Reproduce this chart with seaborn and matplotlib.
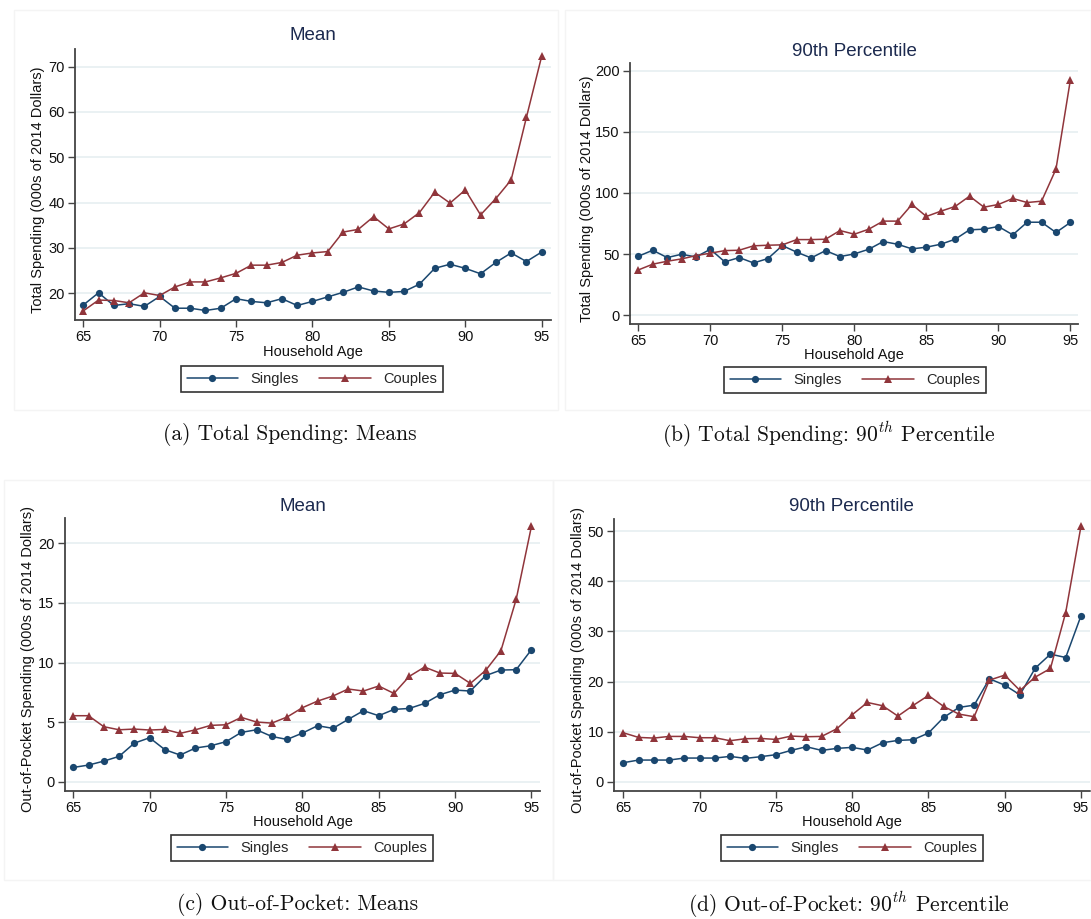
import numpy as np
import pandas as pd
import seaborn as sns
import matplotlib.pyplot as plt
from matplotlib.lines import Line2D
from matplotlib.patches import Rectangle

# -------------------------------
# Data
# -------------------------------
ages = list(range(65, 96))

total_mean_singles = [17.4, 20.1, 17.3, 17.7, 17.1, 19.3, 16.7, 16.7, 16.2, 16.7,
                      18.8, 18.2, 17.9, 18.8, 17.3, 18.2, 19.2, 20.2, 21.4, 20.5,
                      20.2, 20.4, 22.0, 25.5, 26.4, 25.5, 24.3, 26.8, 28.9, 27.0, 29.1]
total_mean_couples = [16.1, 18.5, 18.4, 17.9, 20.1, 19.5, 21.4, 22.5, 22.5, 23.4,
                      24.4, 26.2, 26.2, 26.8, 28.4, 28.9, 29.2, 33.5, 34.1, 36.9,
                      34.2, 35.3, 37.8, 42.3, 39.9, 42.8, 37.3, 40.9, 45.0, 58.8, 72.3]

total_p90_singles = [48.3, 53.2, 47.2, 49.9, 47.7, 54.0, 43.7, 47.2, 42.8, 46.4,
                     57.0, 51.6, 46.9, 52.9, 48.0, 50.2, 54.0, 60.3, 58.1, 54.3,
                     55.7, 58.1, 62.2, 69.9, 70.4, 72.6, 65.8, 76.1, 76.1, 67.7, 75.9]
total_p90_couples = [37.1, 41.8, 44.2, 46.1, 48.8, 50.8, 52.9, 53.2, 56.8, 57.3,
                     57.6, 61.9, 61.9, 62.2, 69.3, 66.3, 70.4, 77.0, 77.0, 90.6,
                     80.8, 85.1, 89.0, 97.4, 88.4, 90.6, 95.5, 92.2, 93.3, 119.5, 192.4]

oop_mean_singles = [1.20, 1.40, 1.73, 2.13, 3.24, 3.69, 2.69, 2.24, 2.83, 3.02,
                    3.36, 4.14, 4.36, 3.80, 3.55, 4.08, 4.70, 4.48, 5.23, 5.96,
                    5.54, 6.07, 6.15, 6.57, 7.30, 7.69, 7.61, 8.90, 9.37, 9.40, 11.08]
oop_mean_couples = [5.54, 5.54, 4.62, 4.36, 4.42, 4.34, 4.39, 4.06, 4.36, 4.73,
                    4.78, 5.40, 5.01, 4.92, 5.43, 6.21, 6.77, 7.19, 7.78, 7.61,
                    8.03, 7.41, 8.84, 9.62, 9.12, 9.09, 8.25, 9.34, 10.99, 15.30, 21.43]

oop_p90_singles = [3.79, 4.32, 4.32, 4.32, 4.72, 4.72, 4.72, 5.05, 4.65, 4.99,
                   5.39, 6.25, 6.98, 6.25, 6.65, 6.85, 6.32, 7.78, 8.24, 8.38,
                   9.71, 12.83, 14.83, 15.29, 20.55, 19.28, 17.35, 22.67, 25.47, 24.80, 33.11]
oop_p90_couples = [9.77, 8.84, 8.71, 9.04, 9.04, 8.78, 8.78, 8.18, 8.58, 8.64,
                   8.44, 9.11, 8.98, 9.04, 10.57, 13.36, 15.82, 15.16, 13.10, 15.23,
                   17.22, 15.03, 13.50, 12.97, 20.28, 21.28, 18.22, 20.88, 22.61, 33.78, 51.00]

xticks = [65, 70, 75, 80, 85, 90, 95]
groups = ['Singles', 'Couples']

# -------------------------------
# Styling
# -------------------------------
sns.set_theme(style="white")
plt.rcParams['font.family'] = ['Liberation Sans', 'DejaVu Sans']
plt.rcParams['mathtext.fontset'] = 'cm'

BLUE = '#1a476f'
RED = '#90353b'
palette = {'Singles': BLUE, 'Couples': RED}
markers = {'Singles': 'o', 'Couples': '^'}
msizes = {'Singles': 5.2, 'Couples': 5.8}
TITLE_C = '#1c2a4f'
AXIS_C = '#444444'
LW = 1.1

W, H = 1091, 919
fig = plt.figure(figsize=(W / 100, H / 100), dpi=100)


def fx(x):
    return x / W


def fy(y):
    return 1 - y / H


# faint Stata graph-region borders
for (x0, y0, x1, y1) in [(14, 10, 558, 410), (565, 10, 1091, 410),
                         (4, 480, 553, 880), (553, 480, 1091, 880)]:
    fig.patches.append(Rectangle((fx(x0), fy(y1)), (x1 - x0) / W, (y1 - y0) / H,
                                 transform=fig.transFigure, fill=False,
                                 edgecolor='#f4f4f4', lw=1))

panels = [
    dict(s=total_mean_singles, c=total_mean_couples, box=(75, 49, 551, 320),
         xlim=(64.46, 95.61), ylim=(14.1, 73.9), yticks=[20, 30, 40, 50, 60, 70],
         title='Mean', title_y=36, ylabel='Total Spending (000s of 2014 Dollars)',
         ylab_x=38, xlab_y=352, leg=(312, 379),
         caption='(a) Total Spending: Means', cap=(290, 435)),
    dict(s=total_p90_singles, c=total_p90_couples, box=(630, 62.7, 1078, 324),
         xlim=(64.42, 95.53), ylim=(-7.1, 206.5), yticks=[0, 50, 100, 150, 200],
         title='90th Percentile', title_y=51, ylabel='Total Spending (000s of 2014 Dollars)',
         ylab_x=587, xlab_y=355, leg=(855, 380),
         caption=r'(b) Total Spending: $90^{th}$ Percentile', cap=(829, 435)),
    dict(s=oop_mean_singles, c=oop_mean_couples, box=(65, 518.3, 540, 790.7),
         xlim=(64.46, 95.56), ylim=(-0.75, 22.1), yticks=[0, 5, 10, 15, 20],
         title='Mean', title_y=506, ylabel='Out-of-Pocket Spending (000s of 2014 Dollars)',
         ylab_x=28, xlab_y=822, leg=(302, 848),
         caption='(c) Out-of-Pocket: Means', cap=(298, 905)),
    dict(s=oop_p90_singles, c=oop_p90_couples, box=(614.3, 519.3, 1089.5, 791),
         xlim=(64.41, 95.56), ylim=(-1.86, 52.4), yticks=[0, 10, 20, 30, 40, 50],
         title='90th Percentile', title_y=506, ylabel='Out-of-Pocket Spending (000s of 2014 Dollars)',
         ylab_x=578, xlab_y=822, leg=(852, 848),
         caption=r'(d) Out-of-Pocket: $90^{th}$ Percentile', cap=(849, 905)),
]

for p in panels:
    l, t, r, b = p['box']
    ax = fig.add_axes([fx(l), fy(b), (r - l) / W, (b - t) / H])

    for g, vals in zip(groups, [p['s'], p['c']]):
        df = pd.DataFrame({'age': ages, 'value': vals})
        sns.lineplot(data=df, x='age', y='value', color=palette[g],
                     marker=markers[g], markersize=msizes[g], linewidth=LW,
                     markeredgewidth=0, ax=ax)

    ax.set_xlim(*p['xlim'])
    ax.set_ylim(*p['ylim'])
    ax.set_xticks(xticks)
    ax.set_yticks(p['yticks'])
    ax.set_xlabel('')
    ax.set_ylabel('')
    ax.yaxis.grid(True, color='#e8f0f2', lw=1.3)
    ax.xaxis.grid(False)
    ax.set_axisbelow(True)
    for side in ['top', 'right']:
        ax.spines[side].set_visible(False)
    for side in ['left', 'bottom']:
        ax.spines[side].set_color(AXIS_C)
        ax.spines[side].set_linewidth(1.3)
    ax.tick_params(axis='both', bottom=True, left=True, direction='out', length=5,
                   width=1, color=AXIS_C, labelsize=10.5, labelcolor='#111111', pad=2.5)

    cx = (l + r) / 2
    fig.text(fx(cx), fy(p['title_y']), p['title'], ha='center', va='center',
             fontsize=13.5, color=TITLE_C)
    fig.text(fx(cx), fy(p['xlab_y']), 'Household Age', ha='center', va='center',
             fontsize=10.5, color='#111111')
    fig.text(fx(p['ylab_x']), fy((t + b) / 2 + 5), p['ylabel'], ha='center', va='center',
             rotation=90, fontsize=10.5, color='#111111')

    handles = [Line2D([], [], color=palette[g], marker=markers[g], markersize=msizes[g],
                      markeredgewidth=0, lw=LW) for g in groups]
    leg = ax.legend(handles, groups, loc='center', ncol=2,
                    bbox_to_anchor=(fx(p['leg'][0]), fy(p['leg'][1])),
                    bbox_transform=fig.transFigure, frameon=True, fancybox=False,
                    fontsize=10.5, handlelength=3.5, handletextpad=0.9,
                    columnspacing=1.4, borderpad=0.4)
    leg.get_frame().set_edgecolor('#333333')
    leg.get_frame().set_linewidth(1.2)
    leg.get_frame().set_alpha(1)

    fig.text(fx(p['cap'][0]), fy(p['cap'][1]), p['caption'], ha='center', va='center',
             family='cmr10', fontsize=15.5, color='#111111')

plt.savefig('out.png', dpi=100)
plt.close()
